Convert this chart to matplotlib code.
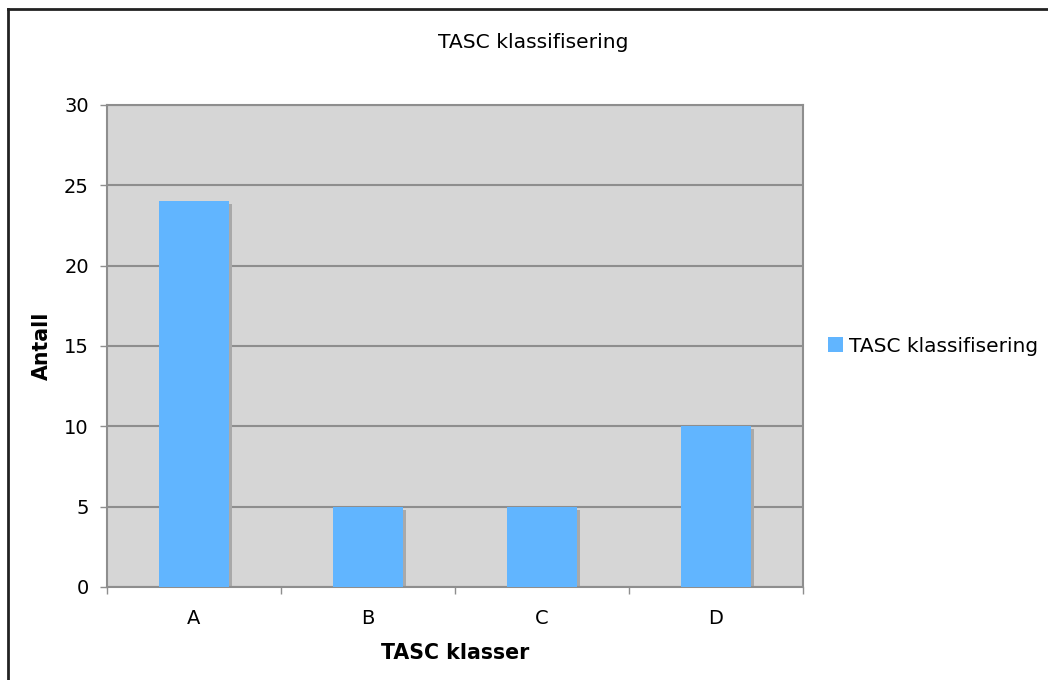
import matplotlib
matplotlib.use("Agg")
import matplotlib.pyplot as plt
import matplotlib.transforms as mtransforms
from matplotlib.lines import Line2D
from matplotlib.patches import Patch

categories = ["A", "B", "C", "D"]
counts = [24, 5, 5, 10]
y_ticks = [0, 5, 10, 15, 20, 25, 30]

bar_color = "#61b5ff"
shadow_color = "#a9a9a9"
grid_color = "#8e8e8e"

plt.rcParams["font.family"] = ["DejaVu Sans"]

fig = plt.figure(figsize=(10.48, 6.8), dpi=100)
ax = fig.add_axes([107 / 1048, 93 / 680, 696 / 1048, 482 / 680])
ax.set_facecolor("#d6d6d6")

x = list(range(len(categories)))

# drop shadow, shifted a few pixels right and down
shadow = mtransforms.offset_copy(ax.transData, fig=fig, x=3, y=-3, units="dots")
ax.bar(x, counts, width=0.4, color=shadow_color, transform=shadow, zorder=2)
ax.bar(x, counts, width=0.4, color=bar_color, zorder=3)

ax.set_xlim(-0.5, len(categories) - 0.5)
ax.set_ylim(0, 30)
ax.set_yticks(y_ticks)
ax.yaxis.grid(True, color=grid_color, linewidth=1.5, zorder=1)
ax.set_axisbelow(True)

# category boundaries carry the tick marks, labels sit at the centres
ax.set_xticks([i - 0.5 for i in range(len(categories) + 1)])
ax.set_xticklabels([])
ax.set_xticks(x, minor=True)
ax.set_xticklabels(categories, minor=True)
ax.tick_params(axis="x", which="minor", length=0, pad=16, labelsize=14)
ax.tick_params(axis="x", which="major", length=5, color=grid_color, width=1)
ax.tick_params(axis="y", length=5, color=grid_color, width=1, labelsize=14, pad=8)

for s in ax.spines.values():
    s.set_color(grid_color)
    s.set_linewidth(1.5)

fig.text(455 / 1048, 1 - 653 / 680, "TASC klasser", ha="center", va="center",
         fontsize=14.8, fontweight="bold")
fig.text(42 / 1048, 1 - 346 / 680, "Antall", ha="center", va="center",
         rotation=90, fontsize=14.8, fontweight="bold")

fig.text(533 / 1048, 1 - 42 / 680, "TASC klassifisering", ha="center", va="center", fontsize=14.6)

handle = Patch(facecolor=bar_color, edgecolor="none")
fig.legend([handle], ["TASC klassifisering"], loc="center left",
           bbox_to_anchor=(828 / 1048, 1 - 346 / 680), frameon=False,
           borderpad=0, borderaxespad=0,
           fontsize=14.5, handlelength=0.75, handleheight=0.75, handletextpad=0.3)

# frame lines along the top and left edge
fig.add_artist(Line2D([8 / 1048, 8 / 1048], [0, 1 - 9 / 680], color="#222222", linewidth=2))
fig.add_artist(Line2D([8 / 1048, 1], [1 - 9 / 680, 1 - 9 / 680], color="#222222", linewidth=2))

fig.savefig("out.png", dpi=100)
